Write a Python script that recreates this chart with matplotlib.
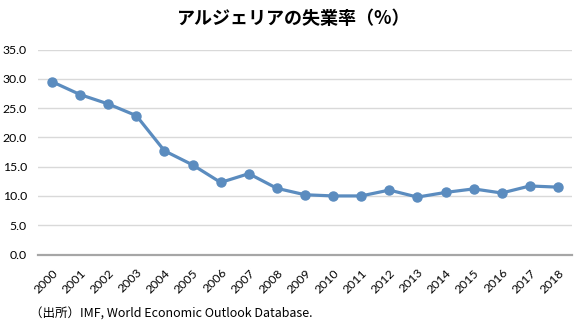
import matplotlib
matplotlib.use("Agg")
import matplotlib.pyplot as plt

years = [str(y) for y in range(2000, 2019)]
rate = [29.5, 27.3, 25.7, 23.7, 17.7, 15.3, 12.3, 13.8, 11.3, 10.2,
        10.0, 10.0, 11.0, 9.8, 10.6, 11.2, 10.5, 11.7, 11.5]
yticks = [0, 5, 10, 15, 20, 25, 30, 35]

LINE_C = "#5b8cbf"
GRID_C = "#d9d9d9"
TEXT_FONT = ["Lato", "Noto Sans CJK JP", "DejaVu Sans"]
JP_FONT = ["Noto Sans CJK JP", "DejaVu Sans"]

fig = plt.figure(figsize=(5.81, 3.29), dpi=100)
ax = fig.add_axes([38 / 581, 1 - 254.5 / 329, (572 - 38) / 581, (254.5 - 49.5) / 329])

x = list(range(len(years)))
ax.plot(x, rate, "-o", color=LINE_C, lw=2.3, ms=6.5, zorder=3)

ax.set_xlim(-0.5, len(years) - 0.5)
ax.set_ylim(0, 35)
ax.set_yticks(yticks)
ax.set_yticklabels([f"{v:.1f}" for v in yticks], family=TEXT_FONT, fontsize=8.8)
ax.set_xticks(x)
ax.set_xticklabels(years, rotation=45, ha="right", va="top",
                   rotation_mode="anchor", family=TEXT_FONT, fontsize=8.8)
ax.tick_params(axis="y", length=0, pad=8)
ax.tick_params(axis="x", length=0, pad=9)
ax.grid(axis="y", color=GRID_C, lw=1.0)
ax.set_axisbelow(True)
for s in ["top", "right", "left"]:
    ax.spines[s].set_visible(False)
ax.spines["bottom"].set_color("#a6a6a6")
ax.spines["bottom"].set_linewidth(1.6)

fig.text(294 / 581, 1 - 18 / 329, "アルジェリアの失業率（%）", ha="center", va="center",
         fontsize=13, fontweight="bold", family=JP_FONT)
fig.text(30 / 581, 1 - 314 / 329, "（出所）IMF, World Economic Outlook Database.",
         ha="left", va="center", fontsize=9, family=JP_FONT)

fig.savefig("out.png", dpi=100)
